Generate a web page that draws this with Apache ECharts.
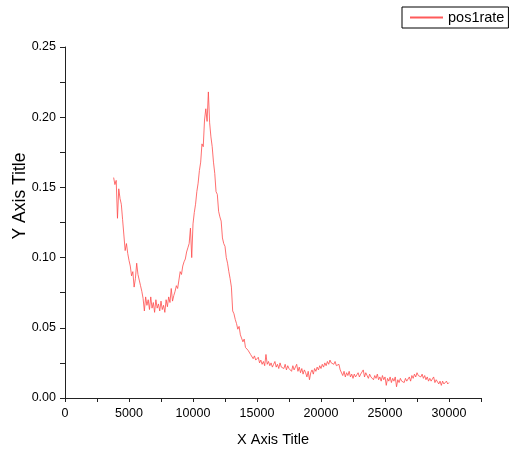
<!DOCTYPE html>
<html lang="en">
  <head>
    <meta charset="UTF-8" />
    <title>pos1rate</title>
    <script src="https://cdn.jsdelivr.net/npm/echarts@6/dist/echarts.min.js"></script>
    <style>
      html, body { margin: 0; padding: 0; background: #fff; }
      #app { width: 510px; height: 455px; }
    </style>
  </head>
  <body>
    <div id="app"></div>
    <script>
      // sample grid of the measurement (x), one reading every 100
      const xStart = 3800;
      const xStep = 100;

      // pos1rate readings, 3800 .. 30000
      const rate3800 = [0.157, 0.152];
      const rate4000 = [0.155, 0.128, 0.149, 0.142, 0.138, 0.127, 0.128, 0.105, 0.110, 0.103];
      const rate5000 = [0.098, 0.094, 0.087, 0.090, 0.079, 0.085, 0.096, 0.088, 0.084, 0.080];
      const rate6000 = [0.076, 0.071, 0.062, 0.072, 0.066, 0.070, 0.063, 0.072, 0.064, 0.068];
      const rate7000 = [0.061, 0.070, 0.064, 0.067, 0.062, 0.069, 0.063, 0.066, 0.061, 0.070];
      const rate8000 = [0.065, 0.072, 0.068, 0.078, 0.069, 0.073, 0.076, 0.080, 0.078, 0.084];
      const rate9000 = [0.090, 0.088, 0.094, 0.097, 0.099, 0.104, 0.107, 0.110, 0.121, 0.100];
      const rate10000 = [0.124, 0.132, 0.138, 0.147, 0.153, 0.162, 0.168, 0.181, 0.179, 0.198];
      const rate11000 = [0.206, 0.197, 0.218, 0.196, 0.186, 0.179, 0.168, 0.160, 0.147, 0.145];
      const rate12000 = [0.133, 0.129, 0.126, 0.114, 0.110, 0.108, 0.100, 0.096, 0.090, 0.085];
      const rate13000 = [0.079, 0.062, 0.060, 0.056, 0.053, 0.049, 0.051, 0.045, 0.044, 0.040];
      const rate14000 = [0.042, 0.036, 0.037, 0.034, 0.035, 0.031, 0.032, 0.028, 0.030, 0.027];
      const rate15000 = [0.026, 0.029, 0.025, 0.027, 0.024, 0.026, 0.023, 0.031, 0.024, 0.026];
      const rate16000 = [0.023, 0.025, 0.022, 0.024, 0.026, 0.022, 0.024, 0.021, 0.025, 0.022];
      const rate17000 = [0.023, 0.021, 0.024, 0.020, 0.023, 0.021, 0.022, 0.019, 0.023, 0.020];
      const rate18000 = [0.021, 0.024, 0.019, 0.022, 0.018, 0.021, 0.017, 0.020, 0.018, 0.015];
      const rate19000 = [0.019, 0.013, 0.018, 0.020, 0.017, 0.021, 0.019, 0.022, 0.020, 0.023];
      const rate20000 = [0.021, 0.024, 0.022, 0.025, 0.023, 0.026, 0.024, 0.027, 0.025, 0.026];
      const rate21000 = [0.024, 0.026, 0.023, 0.022, 0.024, 0.020, 0.021, 0.016, 0.019, 0.015];
      const rate22000 = [0.018, 0.016, 0.019, 0.015, 0.017, 0.014, 0.017, 0.015, 0.016, 0.018];
      const rate23000 = [0.015, 0.017, 0.016, 0.020, 0.015, 0.018, 0.016, 0.014, 0.017, 0.015];
      const rate24000 = [0.016, 0.013, 0.016, 0.014, 0.017, 0.013, 0.015, 0.012, 0.016, 0.013];
      const rate25000 = [0.015, 0.009, 0.014, 0.012, 0.015, 0.011, 0.014, 0.012, 0.015, 0.008];
      const rate26000 = [0.013, 0.011, 0.014, 0.012, 0.013, 0.011, 0.014, 0.012, 0.013, 0.015];
      const rate27000 = [0.012, 0.016, 0.014, 0.017, 0.015, 0.018, 0.016, 0.017, 0.015, 0.017];
      const rate28000 = [0.014, 0.016, 0.013, 0.015, 0.012, 0.014, 0.012, 0.013, 0.015, 0.011];
      const rate29000 = [0.013, 0.012, 0.010, 0.012, 0.009, 0.012, 0.010, 0.011, 0.012, 0.010];
      const rate30000 = [0.011];

      const rates = [].concat(
        rate3800, rate4000, rate5000, rate6000, rate7000, rate8000, rate9000,
        rate10000, rate11000, rate12000, rate13000, rate14000, rate15000,
        rate16000, rate17000, rate18000, rate19000, rate20000, rate21000,
        rate22000, rate23000, rate24000, rate25000, rate26000, rate27000,
        rate28000, rate29000, rate30000
      );
      const points = rates.map((v, i) => [xStart + i * xStep, v]);

      const font = "Arial, 'Liberation Sans', sans-serif";
      const axisColor = "#222";

      const chart = echarts.init(document.getElementById("app"));

      chart.setOption({
        animation: false,
        textStyle: { fontFamily: font },
        grid: { left: 65, top: 47, right: 29, bottom: 57, containLabel: false },
        legend: {
          left: 402,
          top: 7,
          padding: [3, 4, 3, 8],
          borderColor: "#000",
          borderWidth: 1,
          borderRadius: 0,
          itemWidth: 33,
          itemHeight: 2,
          icon: "rect",
          textStyle: { fontSize: 14.5, color: "#000", fontFamily: font },
          data: ["pos1rate"],
        },
        xAxis: {
          type: "value",
          min: 0,
          max: 32500,
          interval: 5000,
          name: "X Axis Title",
          nameLocation: "middle",
          nameGap: 34,
          nameTextStyle: { fontSize: 14.5, color: "#000" },
          splitLine: { show: false },
          axisLine: { show: true, lineStyle: { color: axisColor, width: 1 } },
          axisTick: { show: true, length: 4, lineStyle: { color: axisColor } },
          minorTick: { show: true, splitNumber: 2, length: 4, lineStyle: { color: axisColor } },
          axisLabel: {
            fontSize: 12.5,
            color: "#000",
            margin: 9,
            showMaxLabel: false,
            formatter: (v) => String(v),
          },
        },
        yAxis: {
          type: "value",
          min: 0,
          max: 0.25,
          interval: 0.05,
          splitLine: { show: false },
          axisLine: { show: true, lineStyle: { color: axisColor, width: 1 } },
          axisTick: { show: true, length: 5, lineStyle: { color: axisColor } },
          minorTick: { show: true, splitNumber: 2, length: 5, lineStyle: { color: axisColor } },
          axisLabel: {
            fontSize: 12.5,
            color: "#000",
            margin: 9,
            formatter: (v) => v.toFixed(2),
          },
        },
        graphic: [
          {
            type: "text",
            x: 20,
            y: 196,
            rotation: Math.PI / 2,
            style: {
              text: "Y Axis Title",
              fontSize: 17.5,
              fontFamily: font,
              fill: "#000",
              align: "center",
              verticalAlign: "middle",
            },
          },
        ],
        series: [
          {
            name: "pos1rate",
            type: "line",
            data: points,
            showSymbol: false,
            symbol: "none",
            color: "#ff5a5a",
            lineStyle: { color: "#ff4a4a", width: 0.8 },
          },
        ],
      });
    </script>
  </body>
</html>
